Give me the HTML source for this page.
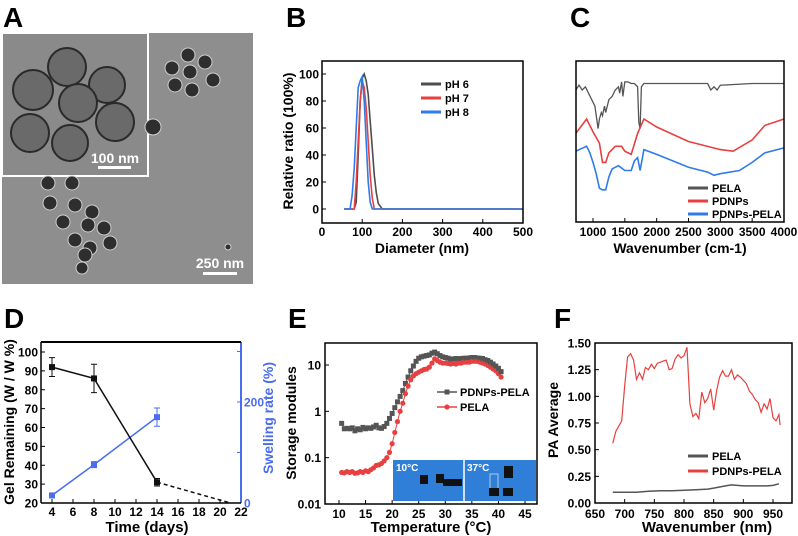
<!DOCTYPE html>
<html><head><meta charset="utf-8"><style>
html,body{margin:0;padding:0;background:#fff}
svg{display:block;font-family:"Liberation Sans",Arial,sans-serif;font-weight:bold}
</style></head><body>
<svg id="fig" width="798" height="536" viewBox="0 0 798 536" xmlns="http://www.w3.org/2000/svg">
<g>
<text x="3" y="27" font-size="28">A</text>
<rect x="2" y="33" width="251" height="251" fill="#8e8e8e"/>
<rect x="2" y="33" width="146" height="143" fill="#8a8a8a" stroke="#fff" stroke-width="2"/>
<g id="bigp"></g>
<g id="smallp"></g>
<text x="115" y="163" font-size="14" fill="#fff" text-anchor="middle">100 nm</text>
<rect x="98" y="166" width="33" height="3" fill="#fff"/>
<text x="220" y="268" font-size="14" fill="#fff" text-anchor="middle">250 nm</text>
<rect x="203" y="272" width="34" height="3" fill="#fff"/>
</g>
<text x="286" y="27" font-size="28">B</text>
<text x="570" y="27" font-size="28">C</text>
<text x="4" y="328" font-size="28">D</text>
<text x="288" y="328" font-size="28">E</text>
<text x="554" y="328" font-size="28">F</text>
<g id="plots"></g>
</svg>
<script>
// Panel A particles (decorative image)
const bigParticles=[[67,67,19],[107,85,18],[33,90,20],[78,103,19],[115,122,19],[30,133,19],[70,143,18]];
const smallParticles=[[188,55,7],[172,68,7],[205,62,7],[190,72,7],[213,80,7],[175,85,7],[192,90,7],[153,127,8],[48,183,7],[72,183,7],[50,203,7],[75,205,7],[92,212,7],[63,222,7],[88,225,7],[104,228,7],[75,240,7],[90,248,7],[110,243,7],[85,255,7],[82,268,6],[228,247,3]];
// Panel B
const bX=[55,60,70,75,80,85,90,95,100,105,110,115,120,125,130,135,140,150,500];
const bPH6=[0,0,0,0,0,5,40,80,97,100,95,85,65,45,25,12,4,0,0];
const bPH7=[0,0,0,0,0,20,50,80,95,90,75,50,25,8,0,0,0,0,0];
const bPH8=[0,0,0,10,30,60,90,95,98,80,50,20,5,0,0,0,0,0,0];
const bYTicks=[0,20,40,60,80,100];
const bXTicks=[0,100,200,300,400,500];
// Panel C
const cPelaX=[730,780,830,880,930,980,1030,1080,1100,1130,1150,1180,1200,1250,1300,1350,1400,1420,1450,1470,1500,1550,1600,1650,1700,1720,1740,1760,1800,2000,2500,2800,2850,2900,2950,3000,3500,4000];
const cPelaY=[82,85,82,84,80,76,72,58,64,68,66,72,68,76,78,82,84,80,87,78,87,87,86,86,84,62,58,84,86,86,86,86,82,84,82,85,86,86];
const cPdX=[730,900,1000,1100,1150,1200,1250,1350,1450,1500,1600,1700,1800,2000,2500,3000,3200,3500,3700,4000];
const cPdY=[55,64,56,49,37,37,43,47,47,44,42,55,64,59,50,45,44,51,60,64];
const cPpX=[730,900,950,1000,1050,1100,1150,1200,1250,1300,1400,1500,1600,1650,1700,1740,1800,2000,2500,2800,2900,3000,3300,3500,3700,4000];
const cPpY=[44,47,43,37,30,21,20,20,28,33,35,32,32,38,40,32,45,42,34,31,29,30,32,37,43,46];
const cXTicks=[1000,1500,2000,2500,3000,3500,4000];
// Panel D
const dDays=[4,8,14];
const dGel=[92,86,31];
const dGelErr=[5,7.5,2];
const dSwell=[15,76,170];
const dSwellErr=[3,6,18];
const dDashX=[14,21];
const dDashY=[31,20];
const dXTicks=[4,6,8,10,12,14,16,18,20,22];
const dYTicks=[20,30,40,50,60,70,80,90,100];
const dY2Ticks=[0,200];
// Panel E
const eT=[10.5,11,11.5,12,12.5,13,13.5,14,14.5,15,15.5,16,16.5,17,17.5,18,18.5,19,19.5,20,20.5,21,21.5,22,22.5,23,23.5,24,24.5,25,25.5,26,26.5,27,27.5,28,28.5,29,29.5,30,30.5,31,31.5,32,32.5,33,33.5,34,34.5,35,35.5,36,36.5,37,37.5,38,38.5,39,39.5,40,40.5];
const ePP=[0.55,0.42,0.43,0.42,0.44,0.38,0.42,0.40,0.45,0.42,0.44,0.43,0.46,0.50,0.44,0.43,0.47,0.55,0.7,0.9,1.2,1.6,2.1,2.8,4,5.5,7.5,9.5,12,14,15,15.5,16,16.5,18,19,17.5,16,15,14.5,14,13.5,13.5,13.8,13.5,13.8,14,14,14.2,14.5,14.5,14.2,14,13.8,13,12.5,11.5,10.5,9.5,8.5,7.2];
const ePELA=[0.048,0.047,0.05,0.048,0.05,0.046,0.047,0.05,0.048,0.052,0.05,0.055,0.06,0.068,0.07,0.075,0.085,0.1,0.13,0.2,0.35,0.6,1,1.5,2.4,3.5,4.8,5.8,6.5,7,7.5,8,8.2,9,11,13.5,12.5,11.5,11,11,10.8,10.5,10.8,10.5,11,11,11.5,11.5,11.5,12,12,12,11.5,11,10.5,9.8,9,8.2,7.5,6.5,5.5];
const eXTicks=[10,15,20,25,30,35,40,45];
const eYTicks=[0.01,0.1,1,10];
const eYLabels=["0.01","0.1","1","10"];
// Panel F
const fRedX=[680,685,690,695,700,705,710,715,720,725,730,735,740,745,750,755,760,765,770,775,780,785,790,795,800,805,810,815,820,825,830,835,840,845,850,855,860,865,870,875,880,885,890,895,900,905,910,915,920,925,930,935,940,945,950,955,960,962];
const fRed=[0.56,0.67,0.72,0.77,1.1,1.37,1.40,1.34,1.16,1.22,1.16,1.27,1.25,1.3,1.26,1.31,1.32,1.33,1.34,1.25,1.26,1.35,1.39,1.36,1.38,1.46,0.93,0.81,0.84,0.79,1.04,0.94,0.98,1.07,0.87,1.05,1.18,1.24,1.19,1.19,1.25,1.16,1.2,1.18,1.15,1.12,1.05,1.02,0.97,0.94,0.85,0.93,0.88,0.98,0.80,0.77,0.83,0.73];
const fBlkX=[680,700,720,740,760,780,800,820,840,850,860,870,880,890,900,920,940,950,960];
const fBlk=[0.1,0.1,0.1,0.11,0.115,0.115,0.12,0.125,0.13,0.14,0.15,0.16,0.17,0.165,0.16,0.16,0.16,0.165,0.18];
const fXTicks=[650,700,750,800,850,900,950];
const fYTicks=[0,0.25,0.5,0.75,1,1.25,1.5];
const fYLabels=["0.00","0.25","0.50","0.75","1.00","1.25","1.50"];

const NS="http://www.w3.org/2000/svg";
const root=document.getElementById('plots');
function mk(tag,attrs,parent){const e=document.createElementNS(NS,tag);for(const k in attrs)e.setAttribute(k,attrs[k]);(parent||root).appendChild(e);return e;}
function lin(d0,d1,r0,r1){return v=>r0+(v-d0)/(d1-d0)*(r1-r0);}
function pathD(xs,ys,sx,sy){return xs.map((x,i)=>(i?'L':'M')+sx(x).toFixed(1)+','+sy(ys[i]).toFixed(1)).join('');}
function txt(x,y,s,size,anchor,fill,parent,rot){const t=mk('text',{x:x,y:y,'font-size':size,'text-anchor':anchor||'middle',fill:fill||'#000'},parent);if(rot)t.setAttribute('transform','rotate(-90 '+x+' '+y+')');t.textContent=s;return t;}

// A particles
const bp=document.getElementById('bigp'),spg=document.getElementById('smallp');
bigParticles.forEach(p=>{const c=mk('circle',{cx:p[0],cy:p[1],r:p[2],fill:'#6a6a6a',stroke:'#2a2a2a','stroke-width':2},bp);

});
smallParticles.forEach(p=>{const c=mk('circle',{cx:p[0],cy:p[1],r:p[2],fill:'#2e2e2e',stroke:'#cfcfcf','stroke-width':1},spg);

});

function frame(name,x0,y0,x1,y1){const r=mk('rect',{x:x0,y:y0,width:x1-x0,height:y1-y0,fill:'none',stroke:'#000','stroke-width':1.5});

}
function series(name,d,color,w,dash){const p=mk('path',{d:d,fill:'none',stroke:color,'stroke-width':w});if(dash)p.setAttribute('stroke-dasharray',dash);

return p;}
function legendLine(name,x,y,color,label){const g=mk('g',{});


mk('line',{x1:x,y1:y,x2:x+20,y2:y,stroke:color,'stroke-width':3},g);txt(x+24,y+4,label,11,'start','#000',g);}

// ---- B ----
{const sx=lin(0,500,322,523),sy=lin(0,100,209,74);
const ax=mk('g',{});


bXTicks.forEach(v=>{mk('line',{x1:sx(v),y1:223,x2:sx(v),y2:219,stroke:'#000'},ax);txt(sx(v),236,String(v),12,'middle','#000',ax);});
bYTicks.forEach(v=>{mk('line',{x1:322,y1:sy(v),x2:326,y2:sy(v),stroke:'#000'},ax);txt(319,sy(v)+4.5,String(v),12,'end','#000',ax);});
txt(422,253,'Diameter (nm)',14,'middle','#000',ax);
txt(293,141,'Relative ratio (100%)',14,'middle','#000',ax,true);
series('b-line-ph6',pathD(bX,bPH6,sx,sy),'#4d4d4d',1.6);
series('b-line-ph7',pathD(bX,bPH7,sx,sy),'#e84040',1.6);
series('b-line-ph8',pathD(bX,bPH8,sx,sy),'#2f7be8',1.6);
frame('b-plot-frame',322,61,523,223);
legendLine('b-legend-ph6',421,84,'#4d4d4d','pH 6');
legendLine('b-legend-ph7',421,98,'#e84040','pH 7');
legendLine('b-legend-ph8',421,112,'#2f7be8','pH 8');}

// ---- C ----
{const sx=lin(1000,4000,593,784),sy=lin(0,100,222,61);
const ax=mk('g',{});


cXTicks.forEach(v=>{mk('line',{x1:sx(v),y1:222,x2:sx(v),y2:218,stroke:'#000'},ax);txt(sx(v),236,String(v),12,'middle','#000',ax);});
txt(680,253,'Wavenumber (cm-1)',14,'middle','#000',ax);
series('c-line-pela',pathD(cPelaX,cPelaY,sx,sy),'#555',1.3);
series('c-line-pdnps',pathD(cPdX,cPdY,sx,sy),'#e84040',1.6);
series('c-line-pdnps-pela',pathD(cPpX,cPpY,sx,sy),'#2f7be8',1.6);
frame('c-plot-frame',576,61,784,222);
legendLine('c-legend-pela',688,188,'#555','PELA');
legendLine('c-legend-pdnps',688,201,'#e84040','PDNPs');
legendLine('c-legend-pdnps-pela',688,214,'#2f7be8','PDNPs-PELA');}

// ---- D ----
{const sx=lin(4,22,52,241),sy=lin(20,100,503,352),sy2=lin(0,200,503,402);
const ax=mk('g',{});


dXTicks.forEach(v=>{mk('line',{x1:sx(v),y1:503,x2:sx(v),y2:499,stroke:'#000'},ax);txt(sx(v),516,String(v),12,'middle','#000',ax);});
dYTicks.forEach(v=>{mk('line',{x1:41,y1:sy(v),x2:45,y2:sy(v),stroke:'#000'},ax);txt(38,sy(v)+4.5,String(v),12,'end','#000',ax);});
mk('line',{x1:241,y1:342,x2:241,y2:503,stroke:'#4a6cf0','stroke-width':2},ax);
[0,100,200,300].forEach(v=>mk('line',{x1:241,y1:sy2(v),x2:237,y2:sy2(v),stroke:'#4a6cf0'},ax));
dY2Ticks.forEach(v=>txt(244,sy2(v)+4.5,String(v),12,'start','#4a6cf0',ax));
txt(147,532,'Time (days)',15,'middle','#000',ax);
txt(14,422,'Gel Remaining (W / W %)',14,'middle','#000',ax,true);
txt(273,418,'Swelling rate (%)',14,'middle','#4a6cf0',ax,true);
mk('line',{x1:41,y1:342,x2:241,y2:342,stroke:'#000','stroke-width':2},ax);
mk('line',{x1:41,y1:342,x2:41,y2:503,stroke:'#000','stroke-width':1.5},ax);
mk('line',{x1:41,y1:503,x2:241,y2:503,stroke:'#000','stroke-width':1.5},ax);
series('d-line-swelling',pathD(dDays,dSwell,sx,sy2),'#4a6cf0',1.5);
series('d-line-gel',pathD(dDays,dGel,sx,sy),'#111',1.5);
series('d-line-gel-extrapolation',pathD(dDashX,dDashY,sx,sy),'#111',1.5,'4,3');
dDays.forEach((d,i)=>{const x=sx(d);
const e=mk('path',{d:`M${x},${sy(dGel[i]-dGelErr[i])}V${sy(dGel[i]+dGelErr[i])}M${x-3},${sy(dGel[i]-dGelErr[i])}h6M${x-3},${sy(dGel[i]+dGelErr[i])}h6`,stroke:'#111',fill:'none'});


const m=mk('rect',{x:x-3,y:sy(dGel[i])-3,width:6,height:6,fill:'#111'});


const e2=mk('path',{d:`M${x},${sy2(dSwell[i]-dSwellErr[i])}V${sy2(dSwell[i]+dSwellErr[i])}M${x-3},${sy2(dSwell[i]-dSwellErr[i])}h6M${x-3},${sy2(dSwell[i]+dSwellErr[i])}h6`,stroke:'#4a6cf0',fill:'none'});


const m2=mk('rect',{x:x-3,y:sy2(dSwell[i])-3,width:6,height:6,fill:'#4a6cf0'});

});}

// ---- E ----
{const sx=lin(10,45,339,525),lg=v=>Math.log10(v),syl=lin(-2,1,504,365),sy=v=>syl(lg(v));
const ax=mk('g',{});


eXTicks.forEach(v=>{mk('line',{x1:sx(v),y1:504,x2:sx(v),y2:500,stroke:'#000'},ax);txt(sx(v),518,String(v),12,'middle','#000',ax);});
eYTicks.forEach((v,i)=>{mk('line',{x1:325,y1:sy(v),x2:329,y2:sy(v),stroke:'#000'},ax);txt(321,sy(v)+4.5,eYLabels[i],12,'end','#000',ax);});
txt(431,532,'Temperature (°C)',15,'middle','#000',ax);
txt(296,423,'Storage modules',14,'middle','#000',ax,true);
const ins=mk('g',{});


mk('rect',{x:393,y:460,width:143,height:41,fill:'#2f7fd8'},ins);
mk('line',{x1:464,y1:460,x2:464,y2:501,stroke:'#fff','stroke-width':1.5},ins);
mk('rect',{x:420,y:475,width:8,height:9,fill:'#111'},ins);mk('rect',{x:436,y:474,width:8,height:9,fill:'#111'},ins);
mk('rect',{x:443,y:479,width:19,height:7,fill:'#111'},ins);
mk('rect',{x:490,y:474,width:8,height:20,fill:'none',stroke:'#cde','stroke-width':0.8},ins);
mk('rect',{x:504,y:466,width:9,height:12,fill:'#111'},ins);
mk('rect',{x:489,y:488,width:10,height:8,fill:'#111'},ins);mk('rect',{x:503,y:488,width:10,height:8,fill:'#111'},ins);
txt(396,471,'10°C',10,'start','#fff',ins);txt(467,471,'37°C',10,'start','#fff',ins);
series('e-line-pdnps-pela',pathD(eT,ePP,sx,sy),'#555',1);
series('e-line-pela',pathD(eT,ePELA,sx,sy),'#e84040',1);
eT.forEach((t,i)=>{const m=mk('rect',{x:sx(t)-2.5,y:sy(ePP[i])-2.5,width:5,height:5,fill:'#555'});


const c=mk('circle',{cx:sx(t),cy:sy(ePELA[i]),r:2.6,fill:'#e84040'});

});
frame('e-plot-frame',325,343,537,504);
const l1=mk('g',{});


mk('line',{x1:437,y1:392,x2:457,y2:392,stroke:'#555','stroke-width':1.5},l1);mk('rect',{x:444.5,y:389.5,width:5,height:5,fill:'#555'},l1);txt(460,396,'PDNPs-PELA',11,'start','#000',l1);
const l2=mk('g',{});


mk('line',{x1:437,y1:407,x2:457,y2:407,stroke:'#e84040','stroke-width':1.5},l2);mk('circle',{cx:447,cy:407,r:2.6,fill:'#e84040'},l2);txt(460,411,'PELA',11,'start','#000',l2);}

// ---- F ----
{const sx=lin(650,950,595,773),sy=lin(0,1.5,503,343);
const ax=mk('g',{});


fXTicks.forEach(v=>{mk('line',{x1:sx(v),y1:503,x2:sx(v),y2:499,stroke:'#000'},ax);txt(sx(v),518,String(v),12,'middle','#000',ax);});
fYTicks.forEach((v,i)=>{mk('line',{x1:595,y1:sy(v),x2:599,y2:sy(v),stroke:'#000'},ax);txt(591,sy(v)+4.5,fYLabels[i],12,'end','#000',ax);});
txt(707,532,'Wavenumber (nm)',15,'middle','#000',ax);
txt(558,420,'PA Average',14,'middle','#000',ax,true);
series('f-line-pdnps-pela',pathD(fRedX,fRed,sx,sy),'#e84040',1.2);
series('f-line-pela',pathD(fBlkX,fBlk,sx,sy),'#555',1.5);
frame('f-plot-frame',595,343,792,503);
legendLine('f-legend-pela',688,456,'#555','PELA');
legendLine('f-legend-pdnps-pela',688,471,'#e84040','PDNPs-PELA');}
</script>
</body></html>
